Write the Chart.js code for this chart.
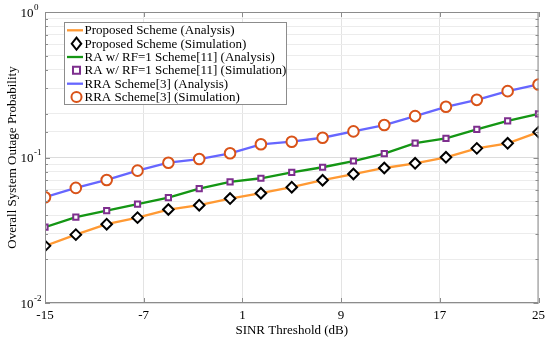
<!DOCTYPE html>
<html>
<head>
<meta charset="utf-8">
<script src="https://cdn.jsdelivr.net/npm/chart.js@4"></script>
<style>
html,body{margin:0;padding:0;background:#fff;}
#wrap{width:550px;height:341px;position:relative;}
</style>
</head>
<body>
<div id="wrap"><canvas id="c" width="550" height="341"></canvas></div>
<script>
// ---- data ----
const sinr = [-15,-12.5,-10,-7.5,-5,-2.5,0,2.5,5,7.5,10,12.5,15,17.5,20,22.5,25];
const xTicks = [-15,-7,1,9,17,25];
const yTicks = [0.01,0.1,1];
const yTickExp = ['-2','-1','0'];

const proposedAnalysis = [0.0247,0.0295,0.0348,0.0386,0.0439,0.0470,0.0522,0.0568,0.0625,0.0698,0.0770,0.0847,0.0912,0.1003,0.1156,0.1252,0.1495];
const proposedSimulation = [0.0247,0.0295,0.0348,0.0386,0.0439,0.0470,0.0522,0.0568,0.0625,0.0698,0.0770,0.0847,0.0912,0.1003,0.1156,0.1252,0.1495];
const raAnalysis = [0.0332,0.0389,0.0432,0.0478,0.0530,0.0611,0.0679,0.0720,0.0789,0.0857,0.0946,0.1062,0.1257,0.1354,0.1561,0.1788,0.1997];
const raSimulation = [0.0332,0.0389,0.0432,0.0478,0.0530,0.0611,0.0679,0.0720,0.0789,0.0857,0.0946,0.1062,0.1257,0.1354,0.1561,0.1788,0.1997];
const rraAnalysis = [0.0533,0.0618,0.0701,0.0812,0.0921,0.0976,0.1069,0.1232,0.1284,0.1367,0.1512,0.1671,0.1926,0.2231,0.2491,0.2858,0.3177];
const rraSimulation = [0.0533,0.0618,0.0701,0.0812,0.0921,0.0976,0.1069,0.1232,0.1284,0.1367,0.1512,0.1671,0.1926,0.2231,0.2491,0.2858,0.3177];

const labels = [
  'Proposed Scheme (Analysis)',
  'Proposed Scheme (Simulation)',
  'RA w/ RF=1 Scheme[11] (Analysis)',
  'RA w/ RF=1 Scheme[11] (Simulation)',
  'RRA Scheme[3] (Analysis)',
  'RRA Scheme[3] (Simulation)'
];

const FONT = '"Liberation Serif", "Times New Roman", serif';
const pts = arr => sinr.map((x,i)=>({x:x, y:arr[i]}));

function lineDs(label, arr, color){
  return {label, data: pts(arr), borderColor: color, backgroundColor: color,
    borderWidth: 2.3, pointRadius: 0, showLine: true, tension: 0, order: 2, isLine: true};
}
function markDs(label, arr, color, style, r){
  return {label, data: pts(arr), borderColor: color, backgroundColor: '#ffffff',
    borderWidth: 2, pointRadius: r, pointStyle: style, showLine: false, order: 1, isLine: false};
}

const datasets = [
  lineDs(labels[0], proposedAnalysis, 'rgb(255,153,51)'),
  markDs(labels[1], proposedSimulation, '#000000', 'rectRot', 5.3),
  lineDs(labels[2], raAnalysis, 'rgb(20,150,20)'),
  markDs(labels[3], raSimulation, 'rgb(126,47,142)', 'rect', 3.7),
  lineDs(labels[4], rraAnalysis, 'rgb(102,102,255)'),
  markDs(labels[5], rraSimulation, 'rgb(217,83,25)', 'circle', 5.3)
];

function drawMarker(ctx, style, r, x, y){
  ctx.beginPath();
  if (style === 'circle'){ ctx.arc(x, y, r, 0, Math.PI*2); }
  else if (style === 'rect'){ ctx.rect(x-r, y-r, 2*r, 2*r); }
  else { ctx.moveTo(x, y-r*1.15); ctx.lineTo(x+r*0.9, y); ctx.lineTo(x, y+r*1.15); ctx.lineTo(x-r*0.9, y); ctx.closePath(); }
  ctx.fill(); ctx.stroke();
}

const boxPlugin = {
  id: 'boxPlugin',
  afterDraw(chart){
    const ctx = chart.ctx, a = chart.chartArea;
    const xs = chart.scales.x, ys = chart.scales.y;
    ctx.save();
    // frame
    ctx.strokeStyle = '#8c8c8c';
    ctx.lineWidth = 1;
    ctx.strokeRect(a.left+0.5, a.top+0.5, a.right-a.left-1, a.bottom-a.top-1);
    // inner ticks
    ctx.beginPath();
    xTicks.forEach(v=>{
      const px = Math.round(xs.getPixelForValue(v))+0.5;
      ctx.moveTo(px, a.bottom); ctx.lineTo(px, a.bottom-5);
      ctx.moveTo(px, a.top); ctx.lineTo(px, a.top+5);
    });
    ys.ticks.forEach(t=>{
      const py = Math.round(ys.getPixelForValue(t.value))+0.5;
      const isMaj = yTicks.some(v=>Math.abs(v-t.value)<1e-9);
      const len = isMaj?5:3;
      ctx.moveTo(a.left, py); ctx.lineTo(a.left+len, py);
      ctx.moveTo(a.right, py); ctx.lineTo(a.right-len, py);
    });
    ctx.stroke();
    // y tick labels with superscripts
    ctx.fillStyle = '#000';
    yTicks.forEach((v,i)=>{
      const py = ys.getPixelForValue(v);
      ctx.font = '13px ' + FONT;
      ctx.textBaseline = 'middle';
      ctx.textAlign = 'left';
      ctx.fillText('10', 20.5, py+1.5);
      const w = ctx.measureText('10').width;
      ctx.font = '9px ' + FONT;
      ctx.fillText(yTickExp[i], 20.5 + w + 0.5, py-4.5);
    });
    // legend
    const L = {x:64.5, y:22.5, w:222, h:82};
    ctx.fillStyle = '#fff';
    ctx.fillRect(L.x, L.y, L.w, L.h);
    ctx.strokeStyle = '#8c8c8c';
    ctx.lineWidth = 1;
    ctx.strokeRect(L.x, L.y, L.w, L.h);
    chart.data.datasets.forEach((ds,i)=>{
      const cy = L.y + 7.8 + i*13.35;
      if (ds.isLine){
        ctx.strokeStyle = ds.borderColor;
        ctx.lineWidth = 2.3;
        ctx.beginPath(); ctx.moveTo(67, cy); ctx.lineTo(83, cy); ctx.stroke();
      } else {
        ctx.strokeStyle = ds.borderColor;
        ctx.fillStyle = '#fff';
        ctx.lineWidth = 2;
        const r = ds.pointStyle === 'rect' ? ds.pointRadius*0.95 : (ds.pointStyle === 'circle' ? ds.pointRadius*0.95 : ds.pointRadius);
        drawMarker(ctx, ds.pointStyle, r, 76.5, cy);
      }
      ctx.fillStyle = '#000';
      ctx.font = '13px ' + FONT;
      ctx.textAlign = 'left';
      ctx.textBaseline = 'middle';
      ctx.fillText(ds.label, 84.5, cy+0.5);
    });
    ctx.restore();
  }
};

const chart = new Chart(document.getElementById('c'), {
  type: 'line',
  data: { datasets },
  plugins: [boxPlugin],
  options: {
    responsive: false,
    animation: false,
    devicePixelRatio: 1,
    layout: { padding: { top: 12, right: 10, left: 0, bottom: 0 } },
    plugins: { legend: { display: false }, tooltip: { enabled: false } },
    scales: {
      x: {
        type: 'linear', min: -15, max: 25,
        afterBuildTicks: s => { s.ticks = xTicks.map(v=>({value:v})); },
        afterFit: s => { s.height = 38; },
        grid: { color: '#e3e3e3', drawTicks: false },
        border: { display: false },
        ticks: { color: '#000', font: { family: FONT, size: 13 }, padding: 5, maxRotation: 0 },
        title: { display: true, text: 'SINR Threshold (dB)', color: '#000',
          font: { family: FONT, size: 13 }, padding: { top: 0, bottom: 3 } }
      },
      y: {
        type: 'logarithmic', min: 0.01, max: 1,
        afterFit: s => { s.width = 45; },
        grid: { color: ctx => {
            const v = ctx.tick ? ctx.tick.value : 0;
            const l = Math.log10(v);
            return Math.abs(l - Math.round(l)) < 1e-6 ? '#dcdcdc' : '#ececec';
          }, drawTicks: false },
        border: { display: false },
        ticks: { display: false },
        title: { display: true, text: 'Overall System Outage Probability', color: '#000',
          font: { family: FONT, size: 13 }, padding: { top: 5, bottom: 0 } }
      }
    }
  }
});
</script>
</body>
</html>
